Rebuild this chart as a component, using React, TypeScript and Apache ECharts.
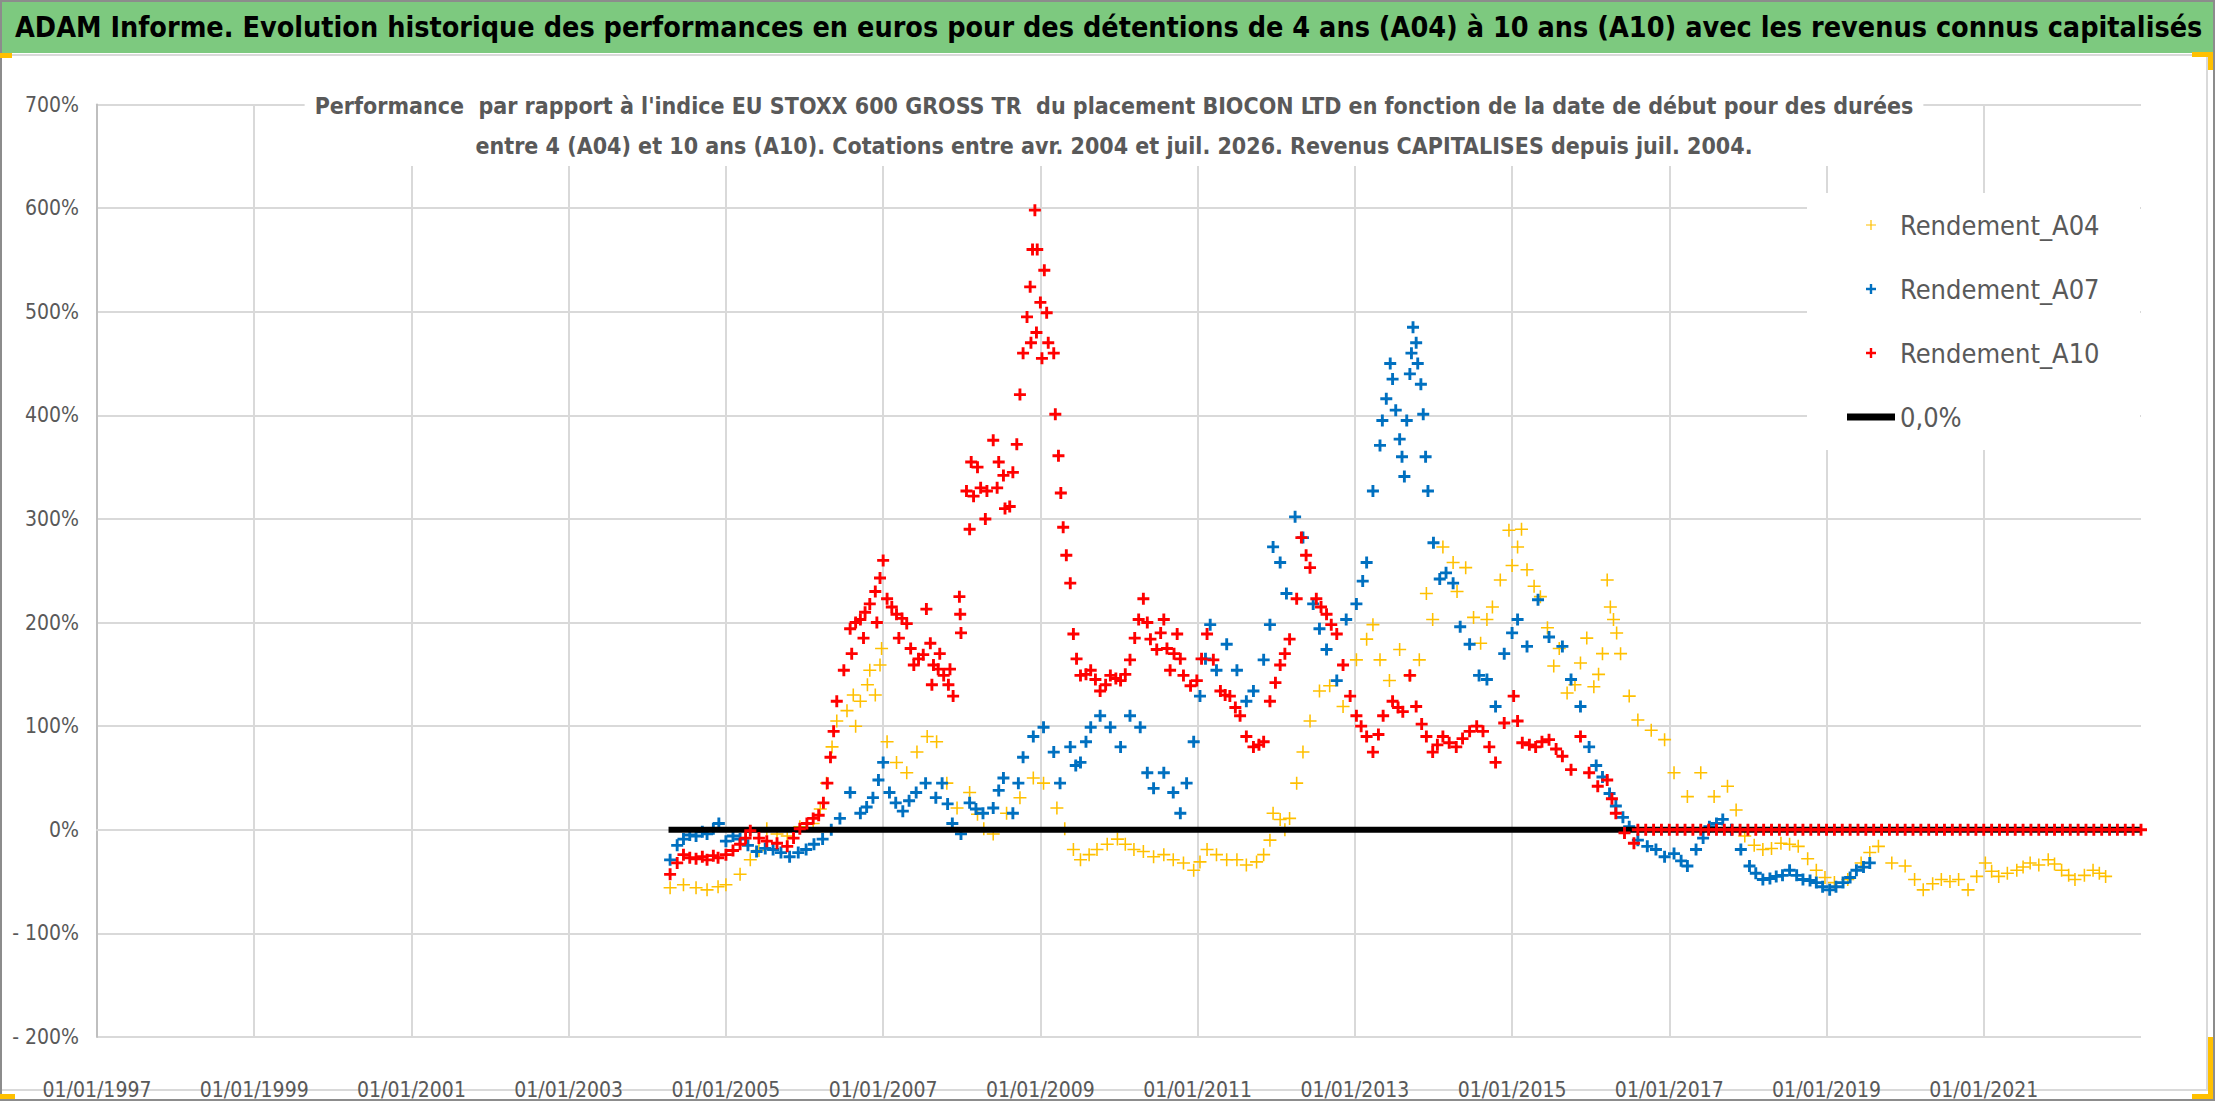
import { useEffect, useRef } from 'react'
import * as echarts from 'echarts'

// valeurs : [date en années décimales, rendement en %]
const rendementA04: [number, number][] = [
  [2004.29, -56], [2004.46, -53], [2004.62, -56], [2004.76, -58], [2004.9, -55],
  [2005.0, -53], [2005.18, -43], [2005.31, -29], [2005.42, -20], [2005.52, 1],
  [2005.65, -4], [2005.78, -6], [2005.94, 3], [2006.11, 6], [2006.2, 20],
  [2006.28, 45], [2006.35, 80], [2006.41, 105], [2006.54, 115], [2006.62, 130],
  [2006.65, 100], [2006.71, 124], [2006.8, 140], [2006.83, 154], [2006.9, 130],
  [2006.96, 159], [2006.98, 175], [2007.05, 85], [2007.17, 65],
  [2007.3, 55], [2007.43, 75], [2007.56, 90], [2007.68, 85], [2007.81, 45],
  [2007.94, 21], [2008.1, 36], [2008.2, 15], [2008.28, 1], [2008.4, -4],
  [2008.57, 16], [2008.74, 31], [2008.91, 50], [2009.04, 45], [2009.21, 21],
  [2009.31, 1], [2009.42, -19], [2009.51, -29], [2009.62, -24], [2009.72, -19],
  [2009.85, -14], [2009.98, -9], [2010.08, -14], [2010.19, -19], [2010.31, -21],
  [2010.44, -26], [2010.57, -24], [2010.69, -29], [2010.82, -32], [2010.95, -39],
  [2011.03, -31], [2011.12, -19], [2011.24, -24], [2011.37, -29], [2011.5, -29],
  [2011.62, -34], [2011.75, -31], [2011.84, -24], [2011.92, -10], [2011.96, 16],
  [2012.05, 10], [2012.11, 0], [2012.17, 11], [2012.26, 45], [2012.34, 75],
  [2012.43, 105], [2012.55, 134], [2012.68, 139], [2012.85, 119], [2013.02, 164],
  [2013.15, 184], [2013.23, 198], [2013.32, 164], [2013.44, 144], [2013.57, 174],
  [2013.7, 149], [2013.82, 164], [2013.91, 228], [2013.99, 203], [2014.12, 273],
  [2014.25, 258], [2014.3, 230], [2014.41, 253], [2014.51, 205], [2014.6, 180],
  [2014.68, 203], [2014.75, 215], [2014.85, 241], [2014.96, 289], [2015.0, 255],
  [2015.07, 273], [2015.12, 290], [2015.19, 251], [2015.28, 235], [2015.36, 225],
  [2015.45, 195], [2015.53, 158], [2015.6, 175], [2015.7, 132], [2015.8, 140],
  [2015.87, 161], [2015.95, 185], [2016.04, 138], [2016.1, 150], [2016.15, 170],
  [2016.21, 241], [2016.25, 215], [2016.29, 203], [2016.33, 190], [2016.38, 170],
  [2016.49, 129], [2016.6, 106], [2016.77, 96],
  [2016.94, 87], [2017.06, 55], [2017.23, 32], [2017.4, 55], [2017.57, 32],
  [2017.74, 42], [2017.85, 19], [2017.96, -6], [2018.08, -15], [2018.19, -19],
  [2018.3, -18], [2018.42, -13], [2018.53, -14], [2018.64, -16], [2018.76, -28],
  [2018.87, -39], [2018.98, -46], [2019.1, -51], [2019.27, -48], [2019.44, -32],
  [2019.55, -22], [2019.66, -16], [2019.83, -32], [2020.0, -35], [2020.12, -48],
  [2020.23, -58], [2020.35, -52], [2020.46, -48], [2020.57, -50], [2020.68, -48],
  [2020.8, -58], [2020.91, -45], [2021.02, -32], [2021.1, -40], [2021.19, -45],
  [2021.3, -42], [2021.42, -39], [2021.5, -36], [2021.59, -32], [2021.7, -34],
  [2021.82, -29], [2021.9, -33], [2021.99, -39], [2022.08, -44], [2022.16, -48],
  [2022.28, -44], [2022.39, -39], [2022.47, -42], [2022.55, -45],
]

const rendementA07: [number, number][] = [
  [2004.29, -29], [2004.38, -15], [2004.46, -9], [2004.54, -5], [2004.62, -6],
  [2004.7, -2], [2004.76, -4], [2004.84, 1], [2004.91, 6], [2005.0, -11],
  [2005.09, -6], [2005.18, -9], [2005.28, -15], [2005.39, -21], [2005.5, -18],
  [2005.6, -19], [2005.7, -22], [2005.81, -26], [2005.92, -22], [2006.02, -19],
  [2006.12, -14], [2006.23, -9], [2006.34, 0], [2006.45, 11], [2006.58, 36],
  [2006.71, 16], [2006.79, 22], [2006.87, 31], [2006.94, 48], [2007.0, 65],
  [2007.08, 36], [2007.16, 26], [2007.25, 18], [2007.33, 28], [2007.42, 36],
  [2007.54, 45], [2007.67, 31], [2007.75, 45], [2007.82, 25], [2007.88, 6],
  [2007.99, -4], [2008.1, 26], [2008.18, 20], [2008.27, 16], [2008.4, 21],
  [2008.47, 38], [2008.53, 50], [2008.65, 16], [2008.72, 45], [2008.78, 70],
  [2008.91, 90], [2009.04, 99], [2009.17, 75], [2009.25, 45], [2009.38, 80],
  [2009.45, 62], [2009.51, 65], [2009.58, 85], [2009.64, 99], [2009.76, 110],
  [2009.89, 99], [2010.02, 80], [2010.14, 110], [2010.27, 99], [2010.36, 55],
  [2010.44, 40], [2010.57, 55], [2010.69, 36], [2010.78, 16], [2010.86, 45],
  [2010.95, 85], [2011.03, 129], [2011.1, 165], [2011.16, 198], [2011.24, 154],
  [2011.37, 179], [2011.5, 154], [2011.62, 124], [2011.71, 134], [2011.84, 164],
  [2011.92, 198], [2011.96, 273], [2012.05, 258], [2012.13, 228], [2012.24, 302],
  [2012.34, 282], [2012.47, 218], [2012.55, 194], [2012.64, 174], [2012.77, 144],
  [2012.89, 203], [2013.02, 218], [2013.1, 240], [2013.15, 258], [2013.23, 327],
  [2013.32, 371], [2013.35, 395], [2013.4, 416], [2013.45, 450], [2013.48, 435],
  [2013.52, 405], [2013.57, 377], [2013.6, 360], [2013.63, 341], [2013.66, 395],
  [2013.7, 440], [2013.72, 460], [2013.74, 485], [2013.78, 470], [2013.8, 450],
  [2013.84, 430], [2013.87, 401], [2013.9, 360], [2013.93, 327],
  [2014.0, 277], [2014.08, 242], [2014.16, 248], [2014.25, 238], [2014.34, 196],
  [2014.46, 179], [2014.58, 149], [2014.68, 145], [2014.79, 119], [2014.9, 170],
  [2015.0, 190], [2015.07, 203], [2015.19, 177], [2015.33, 222], [2015.47, 186],
  [2015.64, 177], [2015.75, 145], [2015.87, 119], [2015.98, 80], [2016.07, 62],
  [2016.15, 51], [2016.24, 35], [2016.32, 23], [2016.41, 12], [2016.49, 3],
  [2016.6, -10], [2016.72, -16], [2016.83, -19], [2016.94, -26], [2017.06, -23],
  [2017.15, -30], [2017.23, -35], [2017.34, -19], [2017.43, -8], [2017.51, 3],
  [2017.6, 6], [2017.68, 10], [2017.79, 0], [2017.91, -19], [2018.02, -35],
  [2018.1, -42], [2018.19, -48], [2018.28, -47], [2018.36, -45], [2018.44, -44],
  [2018.53, -39], [2018.62, -44], [2018.7, -48], [2018.79, -49], [2018.87, -51],
  [2018.95, -55], [2019.04, -58], [2019.12, -55], [2019.21, -51], [2019.3, -46],
  [2019.38, -39], [2019.47, -36], [2019.55, -32],
]

const rendementA10: [number, number][] = [
  [2004.29, -43], [2004.38, -32], [2004.46, -24], [2004.54, -27], [2004.62, -28],
  [2004.7, -26], [2004.76, -29], [2004.84, -25], [2004.9, -27], [2005.0, -24],
  [2005.09, -20], [2005.18, -14], [2005.25, -8], [2005.31, -1], [2005.42, -8],
  [2005.52, -11], [2005.65, -13], [2005.78, -16], [2005.86, -8], [2005.94, 1],
  [2006.03, 6], [2006.11, 11], [2006.18, 14], [2006.24, 26], [2006.29, 45],
  [2006.33, 70], [2006.37, 95], [2006.41, 124], [2006.5, 154], [2006.58, 194],
  [2006.6, 170], [2006.65, 200], [2006.71, 203], [2006.75, 185], [2006.77, 210],
  [2006.83, 218], [2006.9, 230], [2006.92, 200], [2006.96, 243], [2007.0, 260],
  [2007.05, 223], [2007.11, 215], [2007.17, 208], [2007.2, 185], [2007.24, 204],
  [2007.3, 199], [2007.35, 175], [2007.39, 159], [2007.45, 165], [2007.51, 169],
  [2007.55, 213], [2007.6, 180], [2007.62, 140], [2007.64, 159], [2007.7, 155],
  [2007.72, 170], [2007.77, 149], [2007.83, 140], [2007.85, 155], [2007.89, 129],
  [2007.97, 225], [2007.98, 208], [2007.99, 190], [2008.06, 327], [2008.1, 290],
  [2008.12, 355], [2008.15, 322], [2008.2, 350], [2008.24, 330], [2008.3, 300],
  [2008.32, 327], [2008.4, 376], [2008.45, 330], [2008.47, 355], [2008.53, 342],
  [2008.55, 310], [2008.61, 312], [2008.65, 345], [2008.7, 372], [2008.74, 420],
  [2008.78, 460], [2008.83, 495], [2008.87, 524], [2008.88, 470], [2008.9, 560],
  [2008.93, 598], [2008.95, 480], [2008.96, 560], [2009.0, 509], [2009.02, 455],
  [2009.05, 540], [2009.08, 499], [2009.1, 470], [2009.17, 460],
  [2009.19, 401], [2009.23, 361], [2009.26, 325], [2009.29, 292], [2009.33, 265],
  [2009.38, 238], [2009.42, 189], [2009.46, 165], [2009.51, 149], [2009.58, 150],
  [2009.64, 154], [2009.7, 145], [2009.76, 134], [2009.83, 140], [2009.89, 149],
  [2009.96, 146], [2010.02, 144], [2010.08, 150], [2010.14, 164], [2010.2, 185],
  [2010.25, 203], [2010.31, 223], [2010.36, 200], [2010.4, 184], [2010.48, 174],
  [2010.53, 190], [2010.57, 203], [2010.61, 175], [2010.65, 154], [2010.7, 170],
  [2010.74, 189], [2010.78, 165], [2010.82, 149], [2010.91, 139], [2010.99, 144],
  [2011.05, 165], [2011.12, 189], [2011.2, 164], [2011.29, 134], [2011.35, 130],
  [2011.41, 129], [2011.48, 118], [2011.54, 110], [2011.62, 90], [2011.71, 80],
  [2011.78, 82], [2011.84, 85], [2011.92, 124], [2011.99, 142], [2012.05, 159],
  [2012.11, 170], [2012.17, 184], [2012.26, 223], [2012.32, 282], [2012.38, 265],
  [2012.43, 253], [2012.51, 223], [2012.57, 215], [2012.64, 208], [2012.7, 198],
  [2012.77, 189], [2012.85, 159], [2012.94, 129], [2013.02, 110], [2013.08, 100],
  [2013.15, 90], [2013.23, 75], [2013.3, 92], [2013.36, 110], [2013.48, 124],
  [2013.55, 118], [2013.61, 114], [2013.7, 149], [2013.78, 119], [2013.85, 102],
  [2013.91, 90], [2013.99, 75], [2014.05, 82], [2014.12, 90], [2014.2, 84],
  [2014.29, 80], [2014.37, 88], [2014.46, 95], [2014.55, 100], [2014.63, 95],
  [2014.71, 80], [2014.79, 65], [2014.9, 103], [2015.02, 129], [2015.07, 105],
  [2015.13, 84], [2015.22, 82], [2015.3, 80], [2015.38, 85], [2015.47, 87],
  [2015.56, 78], [2015.64, 71], [2015.75, 58], [2015.87, 90], [2015.98, 55],
  [2016.09, 42], [2016.21, 48], [2016.27, 30], [2016.32, 16], [2016.43, -3],
  [2016.55, -13],
]

// après juil. 2016 la série A10 reste à 0
const a10ZeroDates = [
  2016.6, 2016.7, 2016.8, 2016.9, 2017.0, 2017.1, 2017.2, 2017.3, 2017.4, 2017.5,
  2017.6, 2017.7, 2017.8, 2017.9, 2018.0, 2018.1, 2018.2, 2018.3, 2018.4, 2018.5,
  2018.6, 2018.7, 2018.8, 2018.9, 2019.0, 2019.1, 2019.2, 2019.3, 2019.4, 2019.5,
  2019.6, 2019.7, 2019.8, 2019.9, 2020.0, 2020.1, 2020.2, 2020.3, 2020.4, 2020.5,
  2020.6, 2020.7, 2020.8, 2020.9, 2021.0, 2021.1, 2021.2, 2021.3, 2021.4, 2021.5,
  2021.6, 2021.7, 2021.8, 2021.9, 2022.0, 2022.1, 2022.2, 2022.3, 2022.4, 2022.5,
  2022.6, 2022.7, 2022.8, 2022.9, 2023.0,
]

const zeroLine: [number, number][] = [[2004.27, 0], [2023.0, 0]]

const seriesNames = ['Rendement_A04', 'Rendement_A07', 'Rendement_A10', '0,0%']
const seriesColors = ['#FFC000', '#0070C0', '#FF0000', '#000000']

const yMin = -200
const yMax = 700
const yStep = 100
const firstYear = 1997
const yearSpan = 26
const yearStep = 2

const FONT = "'DejaVu Sans Condensed', 'Liberation Sans', sans-serif"
const GREY_TEXT = '#595959'

const plusThick = 'path://M3.8,0H6.2V3.8H10V6.2H6.2V10H3.8V6.2H0V3.8H3.8Z'
const plusThin = 'path://M4.4,0H5.6V4.4H10V5.6H5.6V10H4.4V5.6H0V4.4H4.4Z'
const lineIcon = 'path://M0,0H48V7H0Z'

const toX = (pts: [number, number][]) => pts.map(([d, v]) => [d - firstYear, v])

const App = () => {
  const chartRef = useRef(null)

  useEffect(() => {
    const chart = echarts.init(chartRef.current, null, { renderer: 'svg' })

    const a10 = toX(rendementA10).concat(a10ZeroDates.map((d) => [d - firstYear, 0]))

    const option = {
      animation: false,
      backgroundColor: '#ffffff',
      textStyle: { fontFamily: FONT },
      title: [
        {
          text: 'ADAM Informe. Evolution historique des performances en euros pour des détentions de 4 ans (A04) à 10 ans (A10) avec les revenus connus capitalisés',
          left: 15,
          top: 9,
          padding: 0,
          textStyle: { fontFamily: FONT, fontSize: 28.5, fontWeight: 'bold', color: '#000000', lineHeight: 36 },
        },
        {
          text: "Performance  par rapport à l'indice EU STOXX 600 GROSS TR  du placement BIOCON LTD en fonction de la date de début pour des durées\nentre 4 (A04) et 10 ans (A10). Cotations entre avr. 2004 et juil. 2026. Revenus CAPITALISES depuis juil. 2004.",
          left: 1104,
          top: 86,
          textAlign: 'center',
          padding: [0, 10],
          backgroundColor: '#ffffff',
          textStyle: { fontFamily: FONT, fontSize: 23, fontWeight: 'bold', color: GREY_TEXT, lineHeight: 40, align: 'center' },
        },
      ],
      graphic: [
        { type: 'rect', z: -1, silent: true, shape: { x: 0, y: 2, width: 2214, height: 51 }, style: { fill: '#7DC97F' } },
        { type: 'rect', z: -1, silent: true, shape: { x: 1, y: 55, width: 2206, height: 1035 }, style: { fill: 'none', stroke: '#d9d9d9', lineWidth: 2 } },
        { type: 'rect', z: -1, silent: true, shape: { x: 1, y: 1, width: 2213, height: 1099 }, style: { fill: 'none', stroke: '#8c8c8c', lineWidth: 2 } },
        { type: 'rect', z: 1, silent: true, shape: { x: 1807, y: 193, width: 333, height: 257 }, style: { fill: '#ffffff' } },
        { type: 'rect', silent: true, shape: { x: 0, y: 53, width: 12, height: 5 }, style: { fill: '#FFC000' } },
        { type: 'rect', silent: true, shape: { x: 0, y: 1094, width: 15, height: 5 }, style: { fill: '#FFC000' } },
        { type: 'rect', silent: true, shape: { x: 2192, y: 1094, width: 21, height: 5 }, style: { fill: '#FFC000' } },
        { type: 'rect', silent: true, shape: { x: 2208, y: 1037, width: 5, height: 60 }, style: { fill: '#FFC000' } },
        { type: 'rect', silent: true, shape: { x: 2192, y: 52, width: 21, height: 5 }, style: { fill: '#FFC000' } },
        { type: 'rect', silent: true, shape: { x: 2208, y: 52, width: 5, height: 18 }, style: { fill: '#FFC000' } },
      ],
      legend: {
        orient: 'vertical',
        left: 1847,
        top: 207,
        padding: 0,
        itemWidth: 48,
        itemHeight: 10,
        itemGap: 28,
        selectedMode: false,
        textStyle: { fontFamily: FONT, fontSize: 27, color: GREY_TEXT, lineHeight: 36 },
        data: [
          { name: seriesNames[0], icon: plusThin, itemStyle: { color: seriesColors[0] } },
          { name: seriesNames[1], icon: plusThick, itemStyle: { color: seriesColors[1] } },
          { name: seriesNames[2], icon: plusThick, itemStyle: { color: seriesColors[2] } },
          { name: seriesNames[3], icon: lineIcon, itemStyle: { color: seriesColors[3] } },
        ],
      },
      grid: { left: 97, right: 75, top: 104.5, bottom: 65, containLabel: false },
      xAxis: {
        type: 'value',
        min: 0,
        max: yearSpan,
        interval: yearStep,
        axisLine: { show: true, lineStyle: { color: '#d9d9d9', width: 2 } },
        axisTick: { show: false },
        axisLabel: {
          margin: 42,
          fontFamily: FONT,
          fontSize: 21,
          color: GREY_TEXT,
          formatter: (v: number) => (v >= yearSpan ? '' : '01/01/' + (firstYear + v)),
        },
        splitLine: { show: true, showMaxLine: false, lineStyle: { color: '#d9d9d9', width: 2 } },
      },
      yAxis: {
        type: 'value',
        min: yMin,
        max: yMax,
        interval: yStep,
        axisLine: { show: true, lineStyle: { color: '#bfbfbf', width: 2 } },
        axisTick: { show: false },
        axisLabel: {
          margin: 18,
          fontFamily: FONT,
          fontSize: 21,
          color: GREY_TEXT,
          formatter: (v: number) => (v < 0 ? '- ' + Math.abs(v) + '%' : v + '%'),
        },
        splitLine: { show: true, lineStyle: { color: '#d9d9d9', width: 2 } },
      },
      series: [
        {
          name: seriesNames[0],
          type: 'scatter',
          symbol: plusThin,
          symbolSize: 13,
          z: 2,
          itemStyle: { color: seriesColors[0], opacity: 1 },
          data: toX(rendementA04),
        },
        {
          name: seriesNames[1],
          type: 'scatter',
          symbol: plusThick,
          symbolSize: 12,
          z: 3,
          itemStyle: { color: seriesColors[1], opacity: 1 },
          data: toX(rendementA07),
        },
        {
          name: seriesNames[3],
          type: 'line',
          symbol: 'none',
          z: 4,
          lineStyle: { color: seriesColors[3], width: 6 },
          itemStyle: { color: seriesColors[3] },
          data: toX(zeroLine),
        },
        {
          name: seriesNames[2],
          type: 'scatter',
          symbol: plusThick,
          symbolSize: 12,
          z: 5,
          itemStyle: { color: seriesColors[2], opacity: 1 },
          data: a10,
        },
      ],
    }

    chart.setOption(option)

    return () => {
      chart.dispose()
    }
  }, [])

  return <div ref={chartRef} style={{ position: 'fixed', left: 0, top: 0, width: '2216px', height: '1102px' }} />
}

export default App
